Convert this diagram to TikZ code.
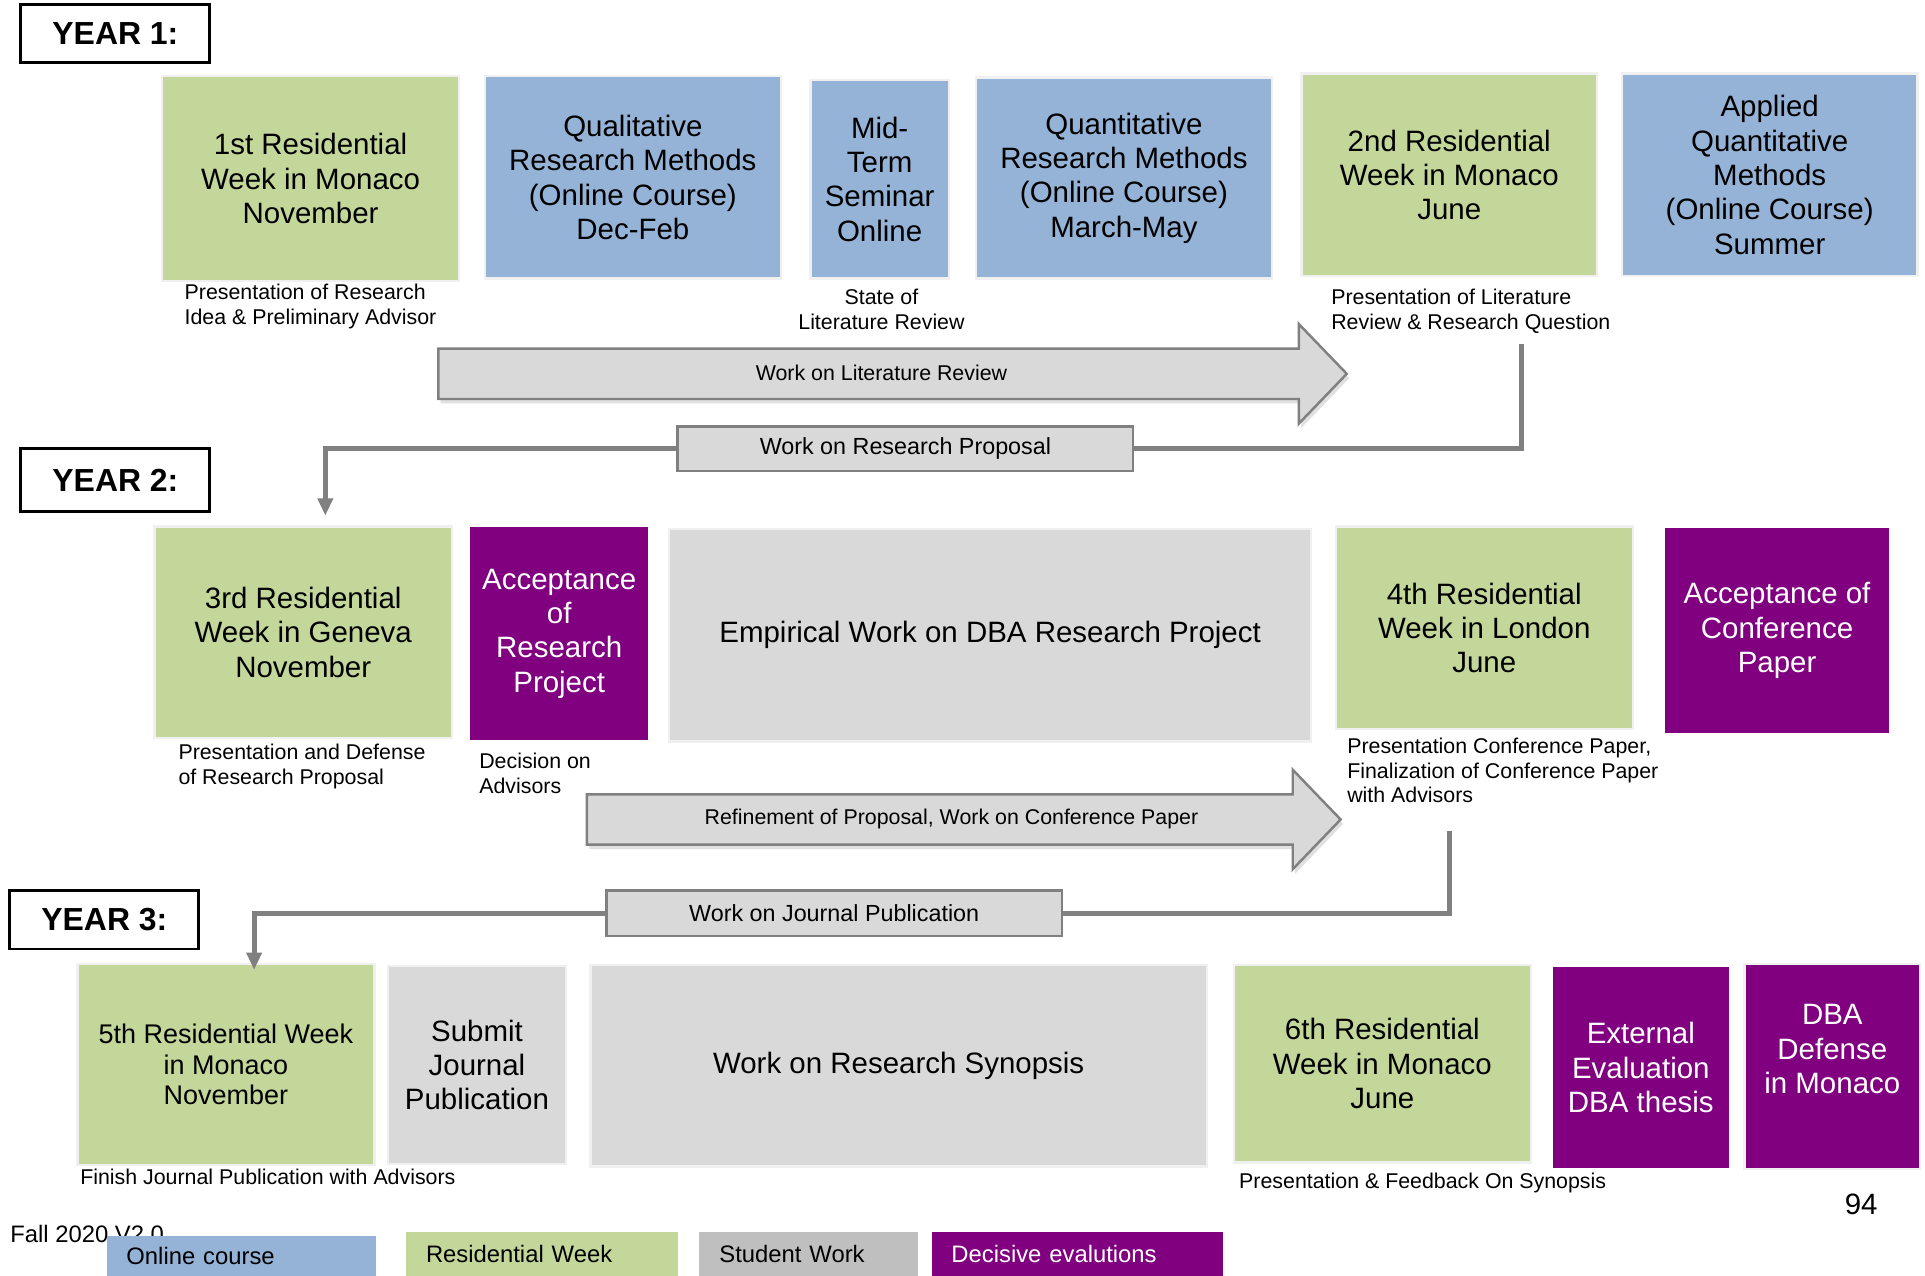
\documentclass[tikz,border=0pt]{standalone}
\usepackage{fontspec}
\setmainfont{Liberation Sans}
\usetikzlibrary{arrows.meta,shadows}
\definecolor{resgreen}{HTML}{C4D79B}
\definecolor{onlineblue}{HTML}{95B3D7}
\definecolor{workgray}{HTML}{D9D9D9}
\definecolor{legendgray}{HTML}{BFBFBF}
\definecolor{decpurple}{HTML}{800080}
\definecolor{linegray}{HTML}{808080}
\tikzstyle{stage}=[rectangle, draw=black!6, line width=1pt, align=center, inner sep=2pt, font=\fontsize{12}{14}\selectfont]
\tikzstyle{resweek}=[stage, fill=resgreen]
\tikzstyle{online}=[stage, fill=onlineblue]
\tikzstyle{studwork}=[stage, fill=workgray]
\tikzstyle{decisive}=[stage, fill=decpurple, draw=none, text=white]
\tikzstyle{yearbox}=[rectangle, draw=black, line width=1.2pt, minimum width=77pt, font=\fontsize{13}{15}\selectfont\bfseries]
\tikzstyle{note}=[align=left, anchor=north west, inner sep=0pt, font=\fontsize{8.7}{10}\selectfont]
\tikzstyle{worklabel}=[rectangle, draw=linegray, fill=workgray, line width=1pt, minimum width=185.5pt, font=\fontsize{9.5}{11}\selectfont]
\tikzstyle{bigarrow}=[draw=linegray, fill=workgray, line width=1pt, drop shadow={shadow xshift=1pt, shadow yshift=-1.8pt, fill=black!12, opacity=1}]
\tikzstyle{arrowtext}=[inner sep=0pt, font=\fontsize{8.7}{10}\selectfont]
\tikzstyle{conn}=[draw=linegray, line width=2pt]
\tikzstyle{legendbox}=[rectangle, inner xsep=8pt, inner ysep=0pt, align=left, minimum height=18pt, font=\fontsize{9.7}{11}\selectfont]
\newcommand{\resweek}{\node[resweek]}
\newcommand{\online}{\node[online]}
\newcommand{\studwork}{\node[studwork]}
\newcommand{\decisive}{\node[decisive]}

\begin{document}
\begin{tikzpicture}[x=0.5pt, y=-0.5pt]
	\fill[white] (0,0) rectangle (1568,1039);
	\useasboundingbox (0,0) rectangle (1568,1039);
	%% year labels
	\node[yearbox] (y1) at (94,27.5) [minimum height=23.5pt] {YEAR 1:};
	\node[yearbox] (y2) at (94,391) [minimum height=26pt] {YEAR 2:};
	\node[yearbox] (y3) at (85,749) [minimum height=24pt] {YEAR 3:};
	%% year 1
	\resweek (res1) at (253,145.5) [minimum width=121pt, minimum height=83.5pt] {1st Residential\\Week in Monaco\\November};
	\online (qual) at (515.5,144.5) [minimum width=120.5pt, minimum height=82.5pt] {Qualitative\\Research Methods\\(Online Course)\\Dec-Feb};
	\online (mid) at (716.5,146) [minimum width=56.5pt, minimum height=81pt] {Mid-\\Term\\Seminar\\Online};
	\online (quant) at (915.5,145) [minimum width=120.5pt, minimum height=82pt] {Quantitative\\Research Methods\\(Online Course)\\March-May};
	\resweek (res2) at (1180.5,142.5) [minimum width=120.5pt, minimum height=82.5pt] {2nd Residential\\Week in Monaco\\June};
	\online (appl) at (1441.5,142.5) [minimum width=120.5pt, minimum height=82.5pt] {Applied\\Quantitative\\Methods\\(Online Course)\\Summer};
	\node[note] (n1) at (150,231) {Presentation of Research\\Idea \& Preliminary Advisor};
	\node[note, align=center, anchor=north] (n2) at (718,235) {State of\\Literature Review};
	\node[note] (n3) at (1084,235) {Presentation of Literature\\Review \& Research Question};
	%% work arrow 1
	\path[bigarrow] (357,284) -- (1058,284) -- (1058,264) -- (1097,304.5) -- (1058,345) -- (1058,325) -- (357,325) -- cycle;
	\node[arrowtext] (wlr) at (718,304) {Work on Literature Review};
	%% year 2
	\resweek (res3) at (247,515) [minimum width=121pt, minimum height=86pt] {3rd Residential\\Week in Geneva\\November};
	\decisive (accr) at (455.5,516) [minimum width=72.5pt, minimum height=87pt] {Acceptance\\of\\Research\\Project};
	\studwork (emp) at (806.5,517.5) [minimum width=261.5pt, minimum height=86.5pt] {Empirical Work on DBA Research Project};
	\resweek (res4) at (1209,511.5) [minimum width=121pt, minimum height=82.5pt] {4th Residential\\Week in London\\June};
	\decisive (accc) at (1447.5,513.5) [minimum width=91.5pt, minimum height=83.5pt] {Acceptance of\\Conference\\Paper};
	\node[note] (n4) at (145,606) {Presentation and Defense\\of Research Proposal};
	\node[note] (n5) at (390,613) {Decision on\\Advisors};
	\node[note] (n6) at (1097,601) {Presentation Conference Paper,\\Finalization of Conference Paper\\with Advisors};
	%% work arrow 2
	\path[bigarrow] (478,647) -- (1053,647) -- (1053,627) -- (1092,667.5) -- (1053,708) -- (1053,688) -- (478,688) -- cycle;
	\node[arrowtext] (rwc) at (775,667) {Refinement of Proposal, Work on Conference Paper};
	%% year 3
	\resweek (res5) at (184,867) [minimum width=121pt, minimum height=82pt, font=\fontsize{11}{12.5}\selectfont] {5th Residential Week\\in Monaco\\November};
	\studwork (subm) at (388.5,867.5) [minimum width=72.5pt, minimum height=80.5pt] {Submit\\Journal\\Publication};
	\studwork (syn) at (732,868) [minimum width=251pt, minimum height=82pt] {Work on Research Synopsis};
	\resweek (res6) at (1126,866.5) [minimum width=121pt, minimum height=80.5pt] {6th Residential\\Week in Monaco\\June};
	\decisive (ext) at (1336.5,869.5) [minimum width=71.5pt, minimum height=81.5pt] {External\\Evaluation\\DBA thesis};
	\decisive (def) at (1492.5,868.5) [minimum width=71.5pt, minimum height=83.5pt, draw=black!6] {DBA\\Defense\\in Monaco\\\mbox{}};
	\node[note] (n7) at (65,952) {Finish Journal Publication with Advisors};
	\node[note] (n8) at (1009,955) {Presentation \& Feedback On Synopsis};
	\node[font=\fontsize{12}{14}\selectfont] (page) at (1516,981) {94};
	%% connectors between the years
	\node[worklabel] (wrp) at (737.5,365.5) [minimum height=18pt] {Work on Research Proposal};
	\coordinate (c1) at (1239,280);
	\coordinate (t1) at (265,420);
	\draw[conn] (c1) |- (wrp.east);
	\draw[conn, -{Triangle[length=7pt,width=6pt]}] (wrp.west) -| (t1);
	\node[worklabel] (wjp) at (679.5,744) [minimum height=18.5pt] {Work on Journal Publication};
	\coordinate (c2) at (1181,677);
	\coordinate (t2) at (207,790);
	\draw[conn] (c2) |- (wjp.east);
	\draw[conn, -{Triangle[length=7pt,width=6pt]}] (wjp.west) -| (t2);
	%% legend
	\node[anchor=west, inner sep=0pt, font=\fontsize{9.7}{11}\selectfont] (ver) at (8,1005) {Fall 2020 V2.0};
	\node[legendbox, fill=onlineblue] (leg1) at (196.5,1023) [minimum height=16.5pt, text width=93.5pt] {Online course};
	\node[legendbox, fill=resgreen] (leg2) at (441.5,1021.5) [text width=94.5pt] {Residential Week};
	\node[legendbox, fill=legendgray, inner xsep=8.5pt] (leg3) at (658.5,1021.5) [text width=72.5pt] {Student Work};
	\node[legendbox, fill=decpurple, text=white] (leg4) at (877.5,1021.5) [text width=102.5pt] {Decisive evalutions};
\end{tikzpicture}
\end{document}
